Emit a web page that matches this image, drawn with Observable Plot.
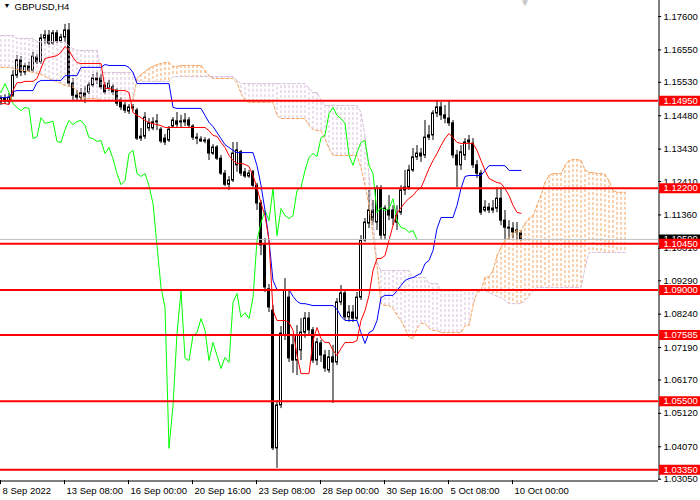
<!DOCTYPE html>
<html><head><meta charset="utf-8">
<script src="https://cdn.jsdelivr.net/npm/d3@7"></script>
<script src="https://cdn.jsdelivr.net/npm/@observablehq/plot@0.6"></script>
<style>
html,body{margin:0;padding:0;background:#fff;}
#chart{width:700px;height:500px;overflow:hidden;}
</style></head><body><div id="chart"></div>
<script>
const symbolName = "GBPUSD,H4";

const open = [1.1490,1.1502,1.1493,1.1511,1.1574,1.1622,1.1584,1.1603,1.1590,1.1631,
1.1616,1.1691,1.1700,1.1675,1.1707,1.1682,1.1694,1.1716,1.1549,1.1511,
1.1505,1.1518,1.1521,1.1543,1.1559,1.1565,1.1543,1.1533,1.1537,1.1527,
1.1496,1.1480,1.1461,1.1474,1.1464,1.1376,1.1382,1.1408,1.1408,1.1427,
1.1404,1.1376,1.1370,1.1414,1.1430,1.1427,1.1427,1.1433,1.1414,1.1379,
1.1373,1.1367,1.1370,1.1329,1.1348,1.1313,1.1266,1.1231,1.1244,1.1292,
1.1333,1.1270,1.1257,1.1270,1.1228,1.1172,1.1040,1.0902,1.0835,1.0402,
1.0537,1.0757,1.0876,1.0726,1.0678,1.0710,1.0766,1.0810,1.0773,1.0678,
1.0732,1.0694,1.0647,1.0688,1.0672,1.0861,1.0889,1.0814,1.0829,1.0810,
1.0876,1.1056,1.1109,1.1150,1.1112,1.1219,1.1071,1.1150,1.1150,1.1112,
1.1143,1.1213,1.1222,1.1276,1.1317,1.1329,1.1323,1.1379,1.1386,1.1455,
1.1474,1.1449,1.1439,1.1424,1.1323,1.1292,1.1323,1.1364,1.1360,1.1292,
1.1266,1.1150,1.1159,1.1150,1.1156,1.1187,1.1118,1.1096,1.1093,1.1081,
1.1078];
const high = [1.1511,1.1514,1.1518,1.1590,1.1637,1.1634,1.1612,1.1616,1.1647,1.1640,
1.1704,1.1716,1.1716,1.1716,1.1716,1.1704,1.1735,1.1738,1.1565,1.1527,
1.1533,1.1540,1.1552,1.1578,1.1584,1.1578,1.1552,1.1559,1.1546,1.1533,
1.1505,1.1490,1.1483,1.1483,1.1471,1.1408,1.1458,1.1439,1.1442,1.1452,
1.1411,1.1389,1.1414,1.1442,1.1458,1.1449,1.1455,1.1442,1.1420,1.1392,
1.1382,1.1379,1.1376,1.1357,1.1354,1.1323,1.1276,1.1257,1.1364,1.1364,
1.1339,1.1282,1.1276,1.1276,1.1235,1.1181,1.1062,1.0917,1.0851,1.0552,
1.0785,1.0936,1.0898,1.0757,1.0788,1.0810,1.0829,1.0829,1.0782,1.0748,
1.0741,1.0710,1.0710,1.0726,1.0873,1.0914,1.0898,1.0851,1.0851,1.0892,
1.1071,1.1125,1.1213,1.1181,1.1228,1.1228,1.1165,1.1197,1.1165,1.1165,
1.1228,1.1276,1.1292,1.1345,1.1354,1.1345,1.1433,1.1417,1.1464,1.1496,
1.1490,1.1480,1.1496,1.1433,1.1339,1.1354,1.1376,1.1386,1.1376,1.1307,
1.1276,1.1181,1.1172,1.1181,1.1222,1.1222,1.1150,1.1118,1.1112,1.1112,
1.1087];
const low = [1.1480,1.1483,1.1483,1.1505,1.1565,1.1571,1.1574,1.1584,1.1584,1.1609,
1.1609,1.1672,1.1669,1.1669,1.1675,1.1675,1.1678,1.1540,1.1496,1.1493,
1.1496,1.1486,1.1514,1.1537,1.1546,1.1530,1.1514,1.1524,1.1511,1.1477,
1.1464,1.1455,1.1452,1.1461,1.1370,1.1367,1.1373,1.1398,1.1401,1.1401,
1.1360,1.1354,1.1364,1.1408,1.1408,1.1411,1.1414,1.1408,1.1370,1.1357,
1.1364,1.1360,1.1307,1.1323,1.1307,1.1260,1.1225,1.1213,1.1238,1.1270,
1.1257,1.1251,1.1251,1.1222,1.1150,1.1008,1.0892,1.0829,1.0395,1.0339,
1.0527,1.0741,1.0672,1.0638,1.0631,1.0678,1.0748,1.0757,1.0669,1.0662,
1.0672,1.0641,1.0638,1.0543,1.0662,1.0851,1.0804,1.0798,1.0798,1.0804,
1.0867,1.1050,1.1093,1.1102,1.1087,1.1056,1.1056,1.1118,1.1102,1.1087,
1.1134,1.1197,1.1213,1.1270,1.1307,1.1301,1.1313,1.1370,1.1370,1.1442,
1.1433,1.1423,1.1414,1.1313,1.1222,1.1276,1.1307,1.1339,1.1282,1.1251,
1.1134,1.1143,1.1140,1.1140,1.1143,1.1102,1.1056,1.1056,1.1062,1.1056,
1.1053];
const close = [1.1502,1.1493,1.1505,1.1574,1.1622,1.1584,1.1603,1.1590,1.1634,1.1616,
1.1691,1.1700,1.1675,1.1707,1.1682,1.1694,1.1716,1.1549,1.1511,1.1505,
1.1518,1.1508,1.1543,1.1565,1.1565,1.1537,1.1521,1.1549,1.1521,1.1486,
1.1474,1.1464,1.1474,1.1471,1.1376,1.1382,1.1442,1.1424,1.1427,1.1430,
1.1367,1.1364,1.1404,1.1433,1.1420,1.1430,1.1433,1.1417,1.1379,1.1376,
1.1367,1.1370,1.1329,1.1348,1.1313,1.1266,1.1231,1.1244,1.1329,1.1339,
1.1266,1.1257,1.1266,1.1228,1.1172,1.1040,1.0908,1.0845,1.0402,1.0537,
1.0763,1.0898,1.0685,1.0678,1.0757,1.0766,1.0810,1.0773,1.0678,1.0735,
1.0694,1.0653,1.0688,1.0672,1.0861,1.0889,1.0814,1.0829,1.0810,1.0876,
1.1056,1.1112,1.1150,1.1118,1.1219,1.1071,1.1156,1.1134,1.1125,1.1134,
1.1213,1.1222,1.1276,1.1317,1.1329,1.1320,1.1379,1.1386,1.1455,1.1474,
1.1449,1.1439,1.1424,1.1323,1.1292,1.1333,1.1364,1.1370,1.1292,1.1266,
1.1143,1.1159,1.1150,1.1156,1.1187,1.1118,1.1096,1.1093,1.1081,1.1087,
1.1059];

const tenkan = [1.1486,1.1486,1.1483,1.1527,1.1552,1.1552,1.1556,1.1556,1.1556,1.1565,
1.1597,1.1628,1.1631,1.1634,1.1637,1.1647,1.1666,1.1653,1.1631,1.1615,
1.1612,1.1612,1.1612,1.1612,1.1612,1.1612,1.1534,1.1534,1.1530,1.1527,
1.1527,1.1527,1.1521,1.1458,1.1449,1.1442,1.1433,1.1427,1.1423,1.1420,
1.1417,1.1411,1.1411,1.1411,1.1411,1.1411,1.1411,1.1411,1.1411,1.1411,
1.1411,1.1411,1.1401,1.1386,1.1383,1.1364,1.1348,1.1323,1.1307,1.1298,
1.1298,1.1295,1.1288,1.1260,1.1222,1.1172,1.1134,1.1056,1.0835,1.0804,
1.0804,1.0804,1.0798,1.0773,1.0694,1.0637,1.0637,1.0637,1.0741,1.0782,
1.0747,1.0735,1.0735,1.0710,1.0694,1.0716,1.0735,1.0735,1.0735,1.0741,
1.0804,1.0835,1.0883,1.0961,1.0999,1.0999,1.1008,1.1056,1.1103,1.1141,
1.1159,1.1175,1.1188,1.1197,1.1213,1.1222,1.1251,1.1282,1.1307,1.1329,
1.1354,1.1376,1.1392,1.1379,1.1364,1.1361,1.1361,1.1361,1.1361,1.1339,
1.1307,1.1276,1.1251,1.1244,1.1238,1.1235,1.1219,1.1197,1.1166,1.1144,
1.1141];
const kijun = [1.1505,1.1505,1.1505,1.1524,1.1527,1.1527,1.1527,1.1527,1.1527,1.1552,
1.1559,1.1559,1.1559,1.1559,1.1559,1.1559,1.1574,1.1574,1.1574,1.1574,
1.1600,1.1600,1.1600,1.1600,1.1600,1.1600,1.1609,1.1606,1.1606,1.1606,
1.1606,1.1606,1.1600,1.1584,1.1549,1.1549,1.1549,1.1549,1.1549,1.1549,
1.1549,1.1549,1.1549,1.1474,1.1471,1.1471,1.1471,1.1471,1.1471,1.1471,
1.1471,1.1449,1.1427,1.1414,1.1395,1.1376,1.1357,1.1348,1.1339,1.1332,
1.1332,1.1332,1.1332,1.1332,1.1291,1.1229,1.1150,1.1056,1.0930,1.0901,
1.0901,1.0901,1.0901,1.0880,1.0864,1.0857,1.0857,1.0854,1.0851,1.0851,
1.0851,1.0851,1.0851,1.0851,1.0839,1.0817,1.0804,1.0804,1.0804,1.0804,
1.0766,1.0732,1.0766,1.0773,1.0804,1.0876,1.0883,1.0883,1.0883,1.0898,
1.0914,1.0930,1.0936,1.0939,1.0946,1.0952,1.0983,1.0993,1.1024,1.1093,
1.1128,1.1128,1.1128,1.1128,1.1166,1.1219,1.1257,1.1260,1.1260,1.1260,
1.1260,1.1276,1.1291,1.1291,1.1291,1.1291,1.1291,1.1276,1.1276,1.1276,
1.1276];

const spanA = [1.1600,1.1600,1.1600,1.1597,1.1593,1.1590,1.1590,1.1587,1.1584,1.1581,
1.1578,1.1571,1.1565,1.1559,1.1556,1.1549,1.1543,1.1540,1.1537,1.1527,
1.1505,1.1502,1.1502,1.1502,1.1502,1.1496,1.1496,1.1496,1.1496,1.1496,
1.1496,1.1496,1.1496,1.1496,1.1565,1.1578,1.1587,1.1597,1.1603,1.1609,
1.1612,1.1615,1.1615,1.1603,1.1603,1.1606,1.1606,1.1606,1.1606,1.1606,
1.1606,1.1590,1.1574,1.1565,1.1565,1.1565,1.1565,1.1565,1.1565,1.1552,
1.1518,1.1496,1.1490,1.1490,1.1490,1.1490,1.1490,1.1490,1.1490,1.1449,
1.1439,1.1439,1.1439,1.1439,1.1439,1.1439,1.1439,1.1417,1.1405,1.1401,
1.1401,1.1376,1.1345,1.1323,1.1323,1.1323,1.1323,1.1323,1.1323,1.1323,
1.1285,1.1229,1.1166,1.1071,1.0977,1.0857,1.0851,1.0851,1.0842,1.0820,
1.0804,1.0779,1.0751,1.0747,1.0779,1.0795,1.0795,1.0779,1.0773,1.0773,
1.0766,1.0766,1.0766,1.0766,1.0766,1.0766,1.0788,1.0788,1.0851,1.0892,
1.0898,1.0939,1.0942,1.0961,1.1008,1.1034,1.1056,1.1065,1.1078,1.1087,
1.1087,1.1109,1.1125,1.1134,1.1166,1.1197,1.1238,1.1260,1.1266,1.1266,
1.1266,1.1291,1.1307,1.1310,1.1310,1.1307,1.1279,1.1269,1.1269,1.1266,
1.1266,1.1263,1.1244,1.1213,1.1207,1.1207,1.1207];
const spanB = [1.1700,1.1700,1.1700,1.1700,1.1691,1.1691,1.1691,1.1691,1.1691,1.1681,
1.1681,1.1681,1.1681,1.1681,1.1681,1.1681,1.1681,1.1666,1.1659,1.1653,
1.1653,1.1653,1.1653,1.1653,1.1653,1.1584,1.1584,1.1584,1.1584,1.1584,
1.1584,1.1584,1.1584,1.1584,1.1559,1.1556,1.1556,1.1556,1.1556,1.1556,
1.1556,1.1556,1.1556,1.1571,1.1571,1.1571,1.1571,1.1571,1.1571,1.1571,
1.1571,1.1571,1.1571,1.1571,1.1571,1.1571,1.1571,1.1571,1.1571,1.1559,
1.1549,1.1549,1.1549,1.1549,1.1549,1.1549,1.1549,1.1549,1.1549,1.1549,
1.1549,1.1549,1.1549,1.1549,1.1549,1.1549,1.1549,1.1534,1.1521,1.1521,
1.1496,1.1480,1.1480,1.1480,1.1480,1.1480,1.1480,1.1480,1.1480,1.1480,
1.1458,1.1386,1.1260,1.1118,1.0986,1.0961,1.0961,1.0961,1.0961,1.0961,
1.0961,1.0961,1.0961,1.0939,1.0939,1.0939,1.0939,1.0920,1.0920,1.0920,
1.0898,1.0898,1.0898,1.0898,1.0898,1.0898,1.0898,1.0898,1.0898,1.0898,
1.0898,1.0898,1.0892,1.0886,1.0880,1.0876,1.0867,1.0857,1.0857,1.0857,
1.0857,1.0867,1.0880,1.0898,1.0908,1.0908,1.0908,1.0908,1.0908,1.0908,
1.0908,1.0908,1.0908,1.0908,1.0908,1.0908,1.0968,1.1018,1.1018,1.1018,
1.1018,1.1018,1.1018,1.1018,1.1018,1.1018,1.1018];

const chikouShift = 26;
const yTicks = [1.17600,1.16550,1.15530,1.14480,1.13430,1.12410,1.11360,1.10310,1.09290,1.08240,1.07190,1.06170,1.05120,1.04070,1.03050];
const levels = [1.14950,1.12200,1.10450,1.09000,1.07585,1.05500,1.03350];
const bid = 1.10590;
const timeIdx = [0,16,32,48,64,80,96,112,128];
const timeLabels = ["8 Sep 2022","13 Sep 08:00","16 Sep 00:00","20 Sep 16:00","23 Sep 08:00","28 Sep 00:00","30 Sep 16:00","5 Oct 08:00","10 Oct 00:00"];
const shiftMarker = 131;

const bars = open.map((o,i)=>({i, open:o, high:high[i], low:low[i], close:close[i]}));
const ind = tenkan.map((t,i)=>({i, tenkan:t, kijun:kijun[i]}));
const cloud = spanA.map((a,i)=>({i, a, b:spanB[i]}));

const X0 = -0.125, X1 = 164.375, Y0 = 1.03009, Y1 = 1.18103;
const ORANGE = "#F4A460", THISTLE = "#D8BFD8";
const LBL = 10.5;

const chart = Plot.plot({
  width: 700, height: 500,
  marginLeft: 0, marginRight: 42, marginTop: 0, marginBottom: 20,
  x: {domain: [X0, X1], axis: null},
  y: {domain: [Y0, Y1], axis: null},
  style: "font-family:'Liberation Sans',Arial,sans-serif;font-size:9.5px;background:#fff;color:#000;",
  marks: [
    Plot.ruleX(bars, {x: "i", y1: "low", y2: "high", stroke: "#000", strokeWidth: 1}),
    Plot.rect(bars, {x1: d => d.i - 0.25, x2: d => d.i + 0.25, y1: "open", y2: "close",
      fill: d => d.close >= d.open ? "#fff" : "#000", stroke: "#000", strokeWidth: 1}),
    Plot.ruleX(cloud, {x: "i", y1: "a", y2: "b", stroke: d => d.a >= d.b ? ORANGE : THISTLE, strokeWidth: 1, strokeDasharray: "3,2"}),
    Plot.line(cloud, {x: "i", y: "a", stroke: ORANGE, strokeWidth: 1, strokeDasharray: "3,2"}),
    Plot.line(cloud, {x: "i", y: "b", stroke: THISTLE, strokeWidth: 1, strokeDasharray: "3,2"}),
    Plot.line(bars, {x: d => d.i - chikouShift, y: "close", stroke: "#00ff00", strokeWidth: 1, clip: true}),
    Plot.line(ind, {x: "i", y: "kijun", stroke: "#0000ff", strokeWidth: 1}),
    Plot.line(ind, {x: "i", y: "tenkan", stroke: "#ff0000", strokeWidth: 1}),
    Plot.ruleY([bid], {stroke: "#c0c0c0", strokeWidth: 1}),
    Plot.ruleY(levels, {stroke: "#ff0000", strokeWidth: 2}),
    // frame
    Plot.ruleX([X1], {stroke: "#000", dx: 0.5}),
    Plot.ruleY([Y0], {stroke: "#000", dy: 0.5}),
    // y ticks
    Plot.ruleY(yTicks, {x1: X1, x2: X1 + 0.8, stroke: "#000"}),
    Plot.text(yTicks, {x: X1, y: d => d, text: d => d.toFixed(5), dx: 5, textAnchor: "start", fill: "#000"}),
    // bid label
    Plot.ruleY([bid], {x1: X1 + 0.25, x2: X1 + LBL, stroke: "#000", strokeWidth: 10}),
    Plot.text([bid], {x: X1, y: d => d, text: d => d.toFixed(5), dx: 5, textAnchor: "start", fill: "#fff"}),
    // level labels
    Plot.ruleY(levels, {x1: X1 + 0.25, x2: X1 + LBL, stroke: "#ff0000", strokeWidth: 10}),
    Plot.text(levels, {x: X1, y: d => d, text: d => d.toFixed(5), dx: 5, textAnchor: "start", fill: "#fff"}),
    // x ticks
    Plot.ruleX(timeIdx, {x: d => d - 0.125, y1: Y0, y2: Y0 - 0.0013, stroke: "#000"}),
    Plot.text(timeIdx, {x: d => d - 0.125, y: Y0, text: (d, i) => timeLabels[i], dx: 2, dy: 10, textAnchor: "start", fill: "#000"}),
    // title
    Plot.text(["▼"], {frameAnchor: "top-left", dx: 3, dy: 3, lineAnchor: "top", textAnchor: "start", fontSize: 7, fill: "#000"}),
    Plot.text([symbolName], {frameAnchor: "top-left", dx: 14, dy: 3, lineAnchor: "top", textAnchor: "start", fill: "#000"}),
    Plot.text(["▼"], {x: () => shiftMarker, frameAnchor: "top", lineAnchor: "top", dy: -2, fontSize: 10, fill: "#c8c8c8"})
  ]
});
document.getElementById("chart").appendChild(chart);
</script>
</body></html>
